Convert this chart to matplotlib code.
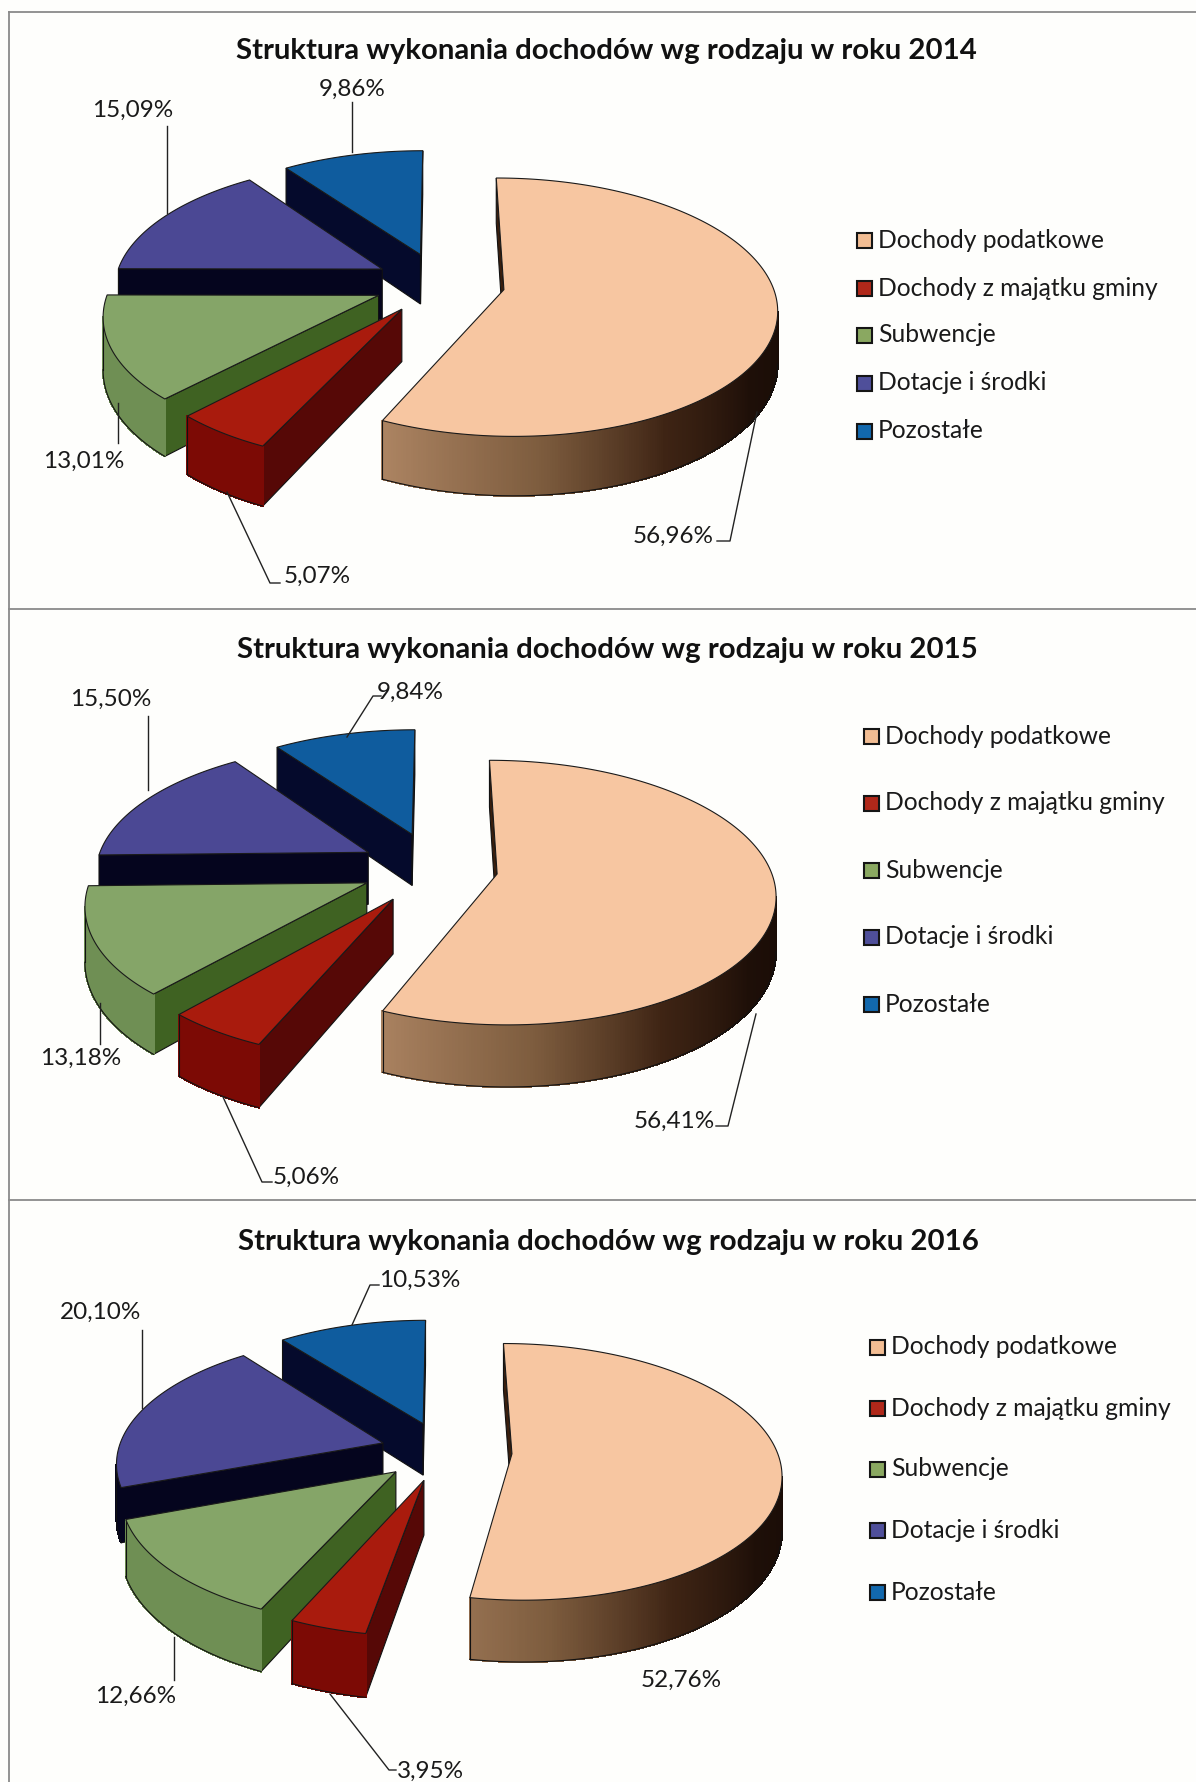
import numpy as np
import matplotlib
matplotlib.use("Agg")
import matplotlib.pyplot as plt
from matplotlib.patches import Polygon, Rectangle

plt.rcParams['font.family'] = ['Lato', 'DejaVu Sans']

categories = ["Dochody podatkowe", "Dochody z majątku gminy", "Subwencje", "Dotacje i środki", "Pozostałe"]
years = [2014, 2015, 2016]
values_2014 = [56.96, 5.07, 13.01, 15.09, 9.86]
values_2015 = [56.41, 5.06, 13.18, 15.50, 9.84]
values_2016 = [52.76, 3.95, 12.66, 20.10, 10.53]
all_values = [values_2014, values_2015, values_2016]

top_colors = ["#f7c6a1", "#a91b0d", "#85a568", "#4b4894", "#0f5c9e"]
radial_colors = ["#3a1f0e", "#560806", "#3f6222", "#05051e", "#050a2c"]
arc_colors = [None, "#7c0a05", "#6f8f54", "#05051e", "#050a2c"]
legend_colors = ["#f2bd93", "#b0281a", "#8aa861", "#4f4f9a", "#1268ad"]
draw_order = [4, 3, 2, 1, 0]

# pie geometry per panel, in pixels of the full picture
pies = [
    dict(cx=440, cy=283, rx=268, ry=125, k=0.135, depth=51, explode=[65, 66, 66, 66, 66]),
    dict(cx=435, cy=868, rx=273, ry=128, k=0.14, depth=53, explode=[63, 76, 74, 76, 78]),
    dict(cx=443, cy=1451, rx=265, ry=125, k=0.14, depth=53, explode=[69, 63, 63, 63, 63]),
]
title_pos = [(606, 51), (607, 650), (608, 1242)]
legend_x = [857, 864, 870]
legend_y = [[240, 288, 335, 383, 431], [736, 803, 870, 937, 1004], [1347, 1408, 1469, 1530, 1592]]

label_pos = [
    [(673, 536), (317, 576), (84, 461), (133, 110), (352, 89)],
    [(674, 1121), (306, 1177), (81, 1058), (111, 699), (410, 692)],
    [(681, 1680), (430, 1771), (136, 1696), (101, 1312), (420, 1280)],
]
leaders = [
    [[(757, 412), (730, 541), (717, 541)], [(227, 492), (270, 583), (280, 583)], [(118, 403), (118, 443)],
     [(167, 126), (167, 213)], [(352, 102), (352, 152)]],
    [[(756, 1014), (728, 1126), (716, 1126)], [(223, 1097), (262, 1182), (272, 1182)], [(100, 1003), (100, 1044)],
     [(148, 716), (148, 790)], [(347, 737), (373, 696), (381, 696)]],
    [[], [(330, 1694), (389, 1770), (396, 1770)], [(174, 1637), (174, 1680)],
     [(142, 1330), (142, 1408)], [(352, 1325), (370, 1285), (379, 1285)]],
]

main_stops = [85, 125, 150, 175, 205]
main_r = [22, 30, 62, 125, 172]
main_g = [10, 15, 36, 92, 132]
main_b = [5, 8, 20, 62, 98]


def project(p, x, y, z=0.0):
    w = 1 - p['k'] * y
    return p['cx'] + p['rx'] * x / w, p['cy'] + p['ry'] * y / w + z * p['depth'] / w


def main_color(theta):
    return (np.interp(theta, main_stops, main_r) / 255,
            np.interp(theta, main_stops, main_g) / 255,
            np.interp(theta, main_stops, main_b) / 255)


def draw_slice(ax, p, i, a0, a1, z):
    mid = np.radians((a0 + a1) / 2)
    ox = np.sin(mid) * p['explode'][i] / p['rx']
    oy = -np.cos(mid) * p['explode'][i] / p['rx']
    angles = np.linspace(a0, a1, int(a1 - a0) * 2 + 2)
    rim_x = ox + np.sin(np.radians(angles))
    rim_y = oy - np.cos(np.radians(angles))

    apex_top = project(p, ox, oy)
    apex_bot = project(p, ox, oy, 1)
    rim_top = [project(p, x, y) for x, y in zip(rim_x, rim_y)]
    rim_bot = [project(p, x, y, 1) for x, y in zip(rim_x, rim_y)]

    # radial walls that face the viewer
    if rim_top[0][0] < apex_top[0]:
        ax.add_patch(Polygon([apex_top, rim_top[0], rim_bot[0], apex_bot], fc=radial_colors[i], ec="#111111", lw=0.8, zorder=z))
    if apex_top[0] < rim_top[-1][0]:
        ax.add_patch(Polygon([apex_top, rim_top[-1], rim_bot[-1], apex_bot], fc=radial_colors[i], ec="#111111", lw=0.8, zorder=z))

    # curved wall, in strips
    front = []
    for j in range(len(angles) - 1):
        if rim_top[j + 1][0] < rim_top[j][0]:
            c = main_color(angles[j]) if i == 0 else arc_colors[i]
            ax.add_patch(Polygon([rim_top[j], rim_top[j + 1], rim_bot[j + 1], rim_bot[j]], fc=c, ec=c, lw=0.8,
                                 antialiased=False, zorder=z))
            front.append(j)
    if front:
        edge = [rim_bot[front[0]]] + [rim_bot[j + 1] for j in front]
        ax.plot([e[0] for e in edge], [e[1] for e in edge], color="#111111", lw=0.8, zorder=z)
        last = front[-1] + 1
        ax.plot([rim_top[last][0], rim_bot[last][0]], [rim_top[last][1], rim_bot[last][1]], color="#111111", lw=0.8, zorder=z)

    ax.add_patch(Polygon([apex_top] + rim_top, fc=top_colors[i], ec="#1a1a1a", lw=0.8, zorder=z))


fig = plt.figure(figsize=(11.96, 17.82), dpi=100, facecolor="#fefefc")
ax = fig.add_axes([0, 0, 1, 1])
ax.set_xlim(0, 1196)
ax.set_ylim(1782, 0)
ax.axis("off")

# panel frame
for y in [12, 609, 1200]:
    ax.plot([9, 1196], [y, y], color="#8a8a8a", lw=1.3)
ax.plot([9, 9], [12, 1782], color="#8a8a8a", lw=1.3)

for n, values in enumerate(all_values):
    p = pies[n]
    edges = np.concatenate([[0], np.cumsum(values)])
    edges = edges / edges[-1] * 360
    for pos, i in enumerate(draw_order):
        draw_slice(ax, p, i, edges[i], edges[i + 1], 2 + pos * 0.1)

    for i, v in enumerate(values):
        line = leaders[n][i]
        if line:
            ax.plot([q[0] for q in line], [q[1] for q in line], color="#222222", lw=1.0, zorder=3)
        lx, ly = label_pos[n][i]
        ax.text(lx, ly, f"{v:.2f}%".replace(".", ","), ha="center", va="center", fontsize=17.5, color="#1a1a1a", zorder=4)

    tx, ty = title_pos[n]
    ax.text(tx, ty, f"Struktura wykonania dochodów wg rodzaju w roku {years[n]}", ha="center", va="center",
            fontsize=21.2, fontweight="bold", color="#111111")

    for i, name in enumerate(categories):
        y = legend_y[n][i]
        ax.add_patch(Rectangle((legend_x[n], y - 7), 15, 15, fc=legend_colors[i], ec="#151515", lw=1.5, zorder=3))
        ax.text(legend_x[n] + 21, y, name, ha="left", va="center", fontsize=17.7, color="#1a1a1a")

fig.savefig("out.png", dpi=100, facecolor=fig.get_facecolor())
